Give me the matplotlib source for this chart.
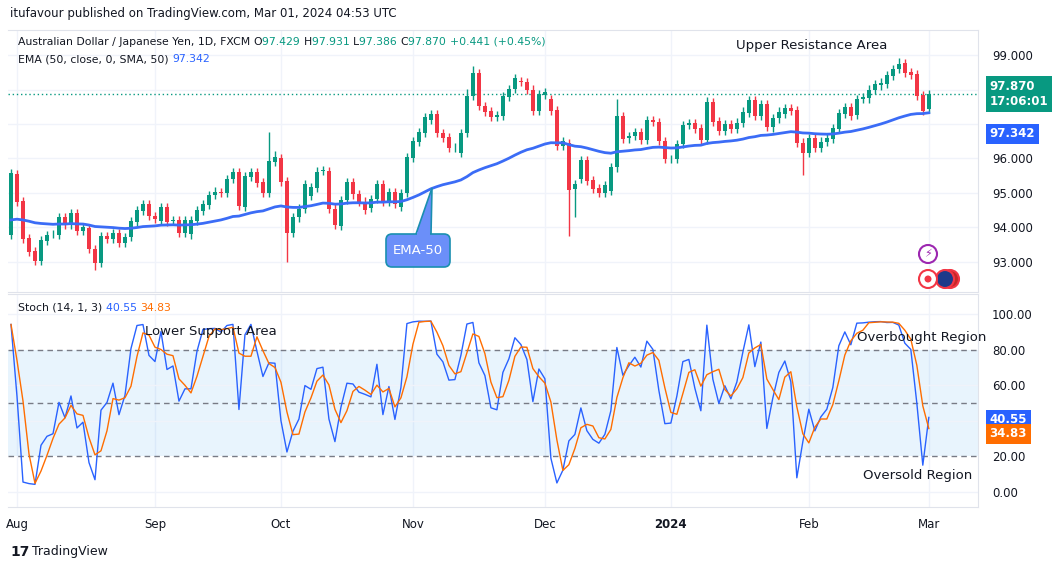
import matplotlib.pyplot as plt
import matplotlib.patches as mpatches
import numpy as np
import pandas as pd

# daily candles, Jul 31 2023 .. Mar 01 2024
opens = [93.78, 95.55, 94.77, 93.69, 93.32, 93.03, 93.61, 93.81, 93.78, 94.29,
         94.09, 94.41, 93.91, 93.98, 93.37, 92.98, 93.75, 93.66, 93.85, 93.54,
         93.73, 94.17, 94.49, 94.68, 94.33, 94.19, 94.60, 94.20, 94.22, 93.85,
         93.80, 94.19, 94.48, 94.65, 94.94, 95.02, 95.00, 95.40, 95.61, 94.60,
         95.47, 95.61, 95.31, 95.01, 95.91, 96.00, 95.35, 93.85, 94.29, 94.55,
         94.91, 95.15, 95.64, 95.64, 94.55, 94.05, 94.80, 95.31, 94.96, 94.75,
         94.57, 94.82, 95.25, 94.73, 95.02, 94.60, 95.00, 96.02, 96.49, 96.75,
         97.11, 97.29, 96.73, 96.61, 96.32, 96.17, 96.73, 97.81, 98.47, 97.52,
         97.38, 97.21, 97.24, 97.79, 98.01, 98.25, 98.22, 98.00, 97.38, 97.84,
         97.72, 97.41, 96.36, 96.44, 95.11, 95.42, 95.96, 95.38, 95.15, 95.01,
         95.07, 95.74, 97.23, 96.58, 96.65, 96.76, 96.54, 97.12, 97.05, 96.51,
         95.98, 95.98, 96.42, 96.97, 97.02, 96.87, 96.54, 97.63, 97.09, 96.81,
         97.00, 96.86, 97.02, 97.33, 97.70, 97.24, 97.58, 96.90, 97.16, 97.29,
         97.45, 97.41, 96.46, 96.17, 96.59, 96.31, 96.47, 96.57, 96.85, 97.29,
         97.48, 97.26, 97.72, 97.74, 97.99, 98.12, 98.16, 98.40, 98.60, 98.76,
         98.50, 98.45, 97.84, 97.429]
closes = [95.57, 94.75, 93.67, 93.28, 93.03, 93.64, 93.78, 93.82, 94.31, 94.07,
          94.41, 93.91, 94.00, 93.37, 92.98, 93.75, 93.66, 93.85, 93.54, 93.73,
          94.19, 94.51, 94.68, 94.33, 94.26, 94.60, 94.17, 94.21, 93.85, 94.22,
          94.22, 94.51, 94.68, 94.94, 95.04, 95.01, 95.41, 95.61, 94.63, 95.49,
          95.61, 95.30, 95.01, 95.93, 96.03, 95.33, 93.85, 94.29, 94.55, 95.26,
          95.18, 95.62, 95.65, 94.55, 94.07, 94.80, 95.31, 94.96, 94.75, 94.52,
          94.82, 95.25, 94.73, 95.02, 94.68, 95.01, 96.03, 96.51, 96.76, 97.19,
          97.29, 96.73, 96.60, 96.31, 96.33, 96.73, 97.81, 98.47, 97.52, 97.36,
          97.21, 97.26, 97.81, 98.01, 98.32, 98.22, 98.00, 97.38, 97.86, 97.92,
          97.39, 96.36, 96.51, 95.09, 95.26, 95.96, 95.36, 95.13, 95.01, 95.23,
          95.74, 97.23, 96.56, 96.65, 96.76, 96.54, 97.12, 97.05, 96.51, 95.98,
          95.99, 96.42, 96.97, 97.02, 96.85, 96.54, 97.65, 97.07, 96.81, 97.00,
          96.86, 97.04, 97.36, 97.70, 97.24, 97.58, 96.92, 97.16, 97.36, 97.45,
          97.39, 96.44, 96.17, 96.59, 96.31, 96.49, 96.59, 96.87, 97.31, 97.48,
          97.24, 97.72, 97.79, 98.00, 98.15, 98.20, 98.42, 98.60, 98.74, 98.49,
          98.42, 97.82, 97.39, 97.870]
# wick sizes beyond the body, mostly small; a few long ones
wick_hi = {43: 0.85, 44: 0.2, 76: 0.2, 77: 0.2, 101: 0.5, 148: 0.17}
wick_lo = {46: 0.85, 93: 1.35, 94: 0.8, 132: 0.65, 14: 0.2}
ema_seed = 94.22

month_idx = [1, 24, 45, 67, 89, 110, 133, 153]
month_lbl = ['Aug', 'Sep', 'Oct', 'Nov', 'Dec', '2024', 'Feb', 'Mar']

UP, DN = '#089981', '#f23645'
BLUE, ORANGE = '#2962ff', '#ff6d00'
GRID = '#f0f3fa'
TXT = '#131722'

o = np.array(opens)
c = np.array(closes)
n = len(c)
h = np.maximum(o, c) + 0.12
l = np.minimum(o, c) - 0.12
for k, v in wick_hi.items():
    h[k] = max(o[k], c[k]) + v
for k, v in wick_lo.items():
    l[k] = min(o[k], c[k]) - v

# EMA 50
alpha = 2 / 51
ema = [ema_seed]
for v in c[1:]:
    ema.append(ema[-1] + alpha * (v - ema[-1]))
ema = np.array(ema)

# stochastic 14,1,3
hh = pd.Series(h).rolling(14, min_periods=1).max()
ll = pd.Series(l).rolling(14, min_periods=1).min()
stk = (100 * (pd.Series(c) - ll) / (hh - ll)).values
std = pd.Series(stk).rolling(3, min_periods=1).mean().values

fig = plt.figure(figsize=(10.64, 5.70), dpi=100)
W, H = 1064, 570


def box(x0, y0, x1, y1):
    return [x0 / W, 1 - y1 / H, (x1 - x0) / W, (y1 - y0) / H]


x = np.arange(n)
ax1 = fig.add_axes(box(8, 30, 978, 292))
ax2 = fig.add_axes(box(8, 294, 978, 507))

for ax in (ax1, ax2):
    ax.set_xlim(-0.5, 161.2)
    for s in ax.spines.values():
        s.set_color('#e0e3eb')
    ax.spines['left'].set_visible(False)
    ax.yaxis.tick_right()
    ax.tick_params(length=0, labelsize=8.5, labelcolor=TXT, pad=10)
    for m in month_idx:
        ax.axvline(m, color=GRID, lw=1, zorder=0)

# main panel
ax1.set_ylim(92.13, 99.725)
for p in range(93, 100):
    ax1.axhline(p, color=GRID, lw=1, zorder=0)
ax1.set_yticks([93, 94, 95, 96, 99])
ax1.set_yticklabels(['93.000', '94.000', '95.000', '96.000', '99.000'])
ax1.set_xticks([])
for i in range(n):
    col = UP if c[i] >= o[i] else DN
    ax1.vlines(x[i], l[i], h[i], color=col, lw=1, zorder=2)
    bot = min(o[i], c[i])
    ax1.add_patch(mpatches.Rectangle((x[i] - 0.33, bot), 0.66, max(abs(c[i] - o[i]), 0.015),
                                     color=col, lw=0, zorder=3))
ax1.plot(x, ema, color='#3b6cf6', lw=2, zorder=4)
ax1.axhline(c[-1], color=UP, lw=1, ls=(0, (1, 2)), zorder=1)
ax1.text(1.012, (c[-1] - 92.13) / (99.725 - 92.13), '97.870\n17:06:01', transform=ax1.transAxes,
         color='white', fontsize=8.5, fontweight='bold', va='center', ha='left', linespacing=1.2,
         bbox=dict(boxstyle='square,pad=0.3', fc=UP, ec='none'))
ax1.text(1.012, (ema[-1] - 92.13) / (99.725 - 92.13) - 0.08, '97.342', transform=ax1.transAxes,
         color='white', fontsize=8.5, fontweight='bold', va='center', ha='left',
         bbox=dict(boxstyle='square,pad=0.3', fc=BLUE, ec='none'))

# stochastic panel
ax2.set_ylim(-8.4, 111.2)
ax2.axhspan(20, 80, color='#2196f3', alpha=0.1, lw=0, zorder=0)
for v in (0, 40, 60, 100):
    ax2.axhline(v, color=GRID, lw=1, zorder=0)
for v in (20, 50, 80):
    ax2.axhline(v, color='#787b86', lw=1, ls=(0, (4, 3)), zorder=1)
ax2.set_yticks([0, 20, 60, 80, 100])
ax2.set_yticklabels(['0.00', '20.00', '60.00', '80.00', '100.00'])
ax2.plot(x, stk, color='#2962ff', lw=1, zorder=3)
ax2.plot(x, std, color=ORANGE, lw=1, zorder=3)
ax2.set_xticks(month_idx)
ax2.set_xticklabels(month_lbl)
ax2.tick_params(axis='x', pad=8)
for t in ax2.get_xticklabels():
    if t.get_text() == '2024':
        t.set_fontweight('bold')
ax2.text(1.012, (40.55 + 8.4) / 119.6, '40.55', transform=ax2.transAxes, color='white',
         fontsize=8.5, fontweight='bold', va='center', bbox=dict(boxstyle='square,pad=0.3', fc=BLUE, ec='none'))
ax2.text(1.012, (32.6 + 8.4) / 119.6, '34.83', transform=ax2.transAxes, color='white',
         fontsize=8.5, fontweight='bold', va='center', bbox=dict(boxstyle='square,pad=0.3', fc=ORANGE, ec='none'))

# overlay for texts and callouts in pixel coordinates
ov = fig.add_axes([0, 0, 1, 1], zorder=10)
ov.set_xlim(0, W)
ov.set_ylim(H, 0)
ov.axis('off')
renderer = fig.canvas.get_renderer()


def run(x0, y, parts, size=8):
    # place text pieces one after another
    xx = x0
    for s, col in parts:
        t = ov.text(xx, y, s, fontsize=size, color=col, va='center')
        bb = t.get_window_extent(renderer)
        xx += bb.width


ov.text(10, 14, 'itufavour published on TradingView.com, Mar 01, 2024 04:53 UTC', fontsize=8.5, color=TXT, va='center')
run(18, 42, [('Australian Dollar / Japanese Yen, 1D, FXCM ', TXT),
             ('O', TXT), ('97.429 ', UP), ('H', TXT), ('97.931 ', UP),
             ('L', TXT), ('97.386 ', UP), ('C', TXT), ('97.870 ', UP),
             ('+0.441 (+0.45%)', UP)], size=7.8)
run(18, 59, [('EMA (50, close, 0, SMA, 50) ', TXT), ('97.342', BLUE)], size=7.8)
run(18, 308, [('Stoch (14, 1, 3) ', TXT), ('40.55 ', BLUE), ('34.83', ORANGE)], size=7.8)
ov.text(812, 45, 'Upper Resistance Area', fontsize=9.5, color=TXT, ha='center', va='center')
ov.text(211, 332, 'Lower Support Area', fontsize=9.5, color=TXT, ha='center', va='center')
ov.text(922, 338, 'Overbought Region', fontsize=9.5, color=TXT, ha='center', va='center')
ov.text(918, 475, 'Oversold Region', fontsize=9.5, color=TXT, ha='center', va='center')

# EMA-50 callout
ov.add_patch(mpatches.Polygon([[416, 234], [432, 188], [431, 234]], closed=True,
                              fc='#6b8ff9', ec='#1a8fb0', lw=1.2, zorder=11))
ov.add_patch(mpatches.FancyBboxPatch((386, 234), 64, 33, boxstyle='round,pad=0,rounding_size=6',
                                     fc='#6b8ff9', ec='#1a8fb0', lw=1.2, zorder=12))
ov.add_patch(mpatches.Rectangle((417, 232), 13, 4, fc='#6b8ff9', ec='none', zorder=13))
ov.text(418, 251, 'EMA-50', fontsize=9.5, color='white', ha='center', va='center', zorder=14)

# small icons
ov.add_patch(mpatches.Circle((928, 254), 9, fc='white', ec='#9c27b0', lw=1.5))
ov.text(928, 254, '⚡', fontsize=8, color='#9c27b0', ha='center', va='center')
ov.add_patch(mpatches.Circle((950, 279), 9, fc='#c62828', ec='#f23645', lw=1.5))
ov.add_patch(mpatches.Circle((945, 279), 9, fc='#1e3a8a', ec='#f23645', lw=1.5))
ov.add_patch(mpatches.Circle((928, 279), 9, fc='white', ec='#f23645', lw=1.5))
ov.add_patch(mpatches.Circle((928, 279), 3.5, fc='#f23645', ec='none'))

ov.text(10, 552, '17', fontsize=10, fontweight='heavy', color=TXT, va='center')
ov.text(32, 552, 'TradingView', fontsize=9, color=TXT, va='center')

fig.savefig('out.png', dpi=100)
